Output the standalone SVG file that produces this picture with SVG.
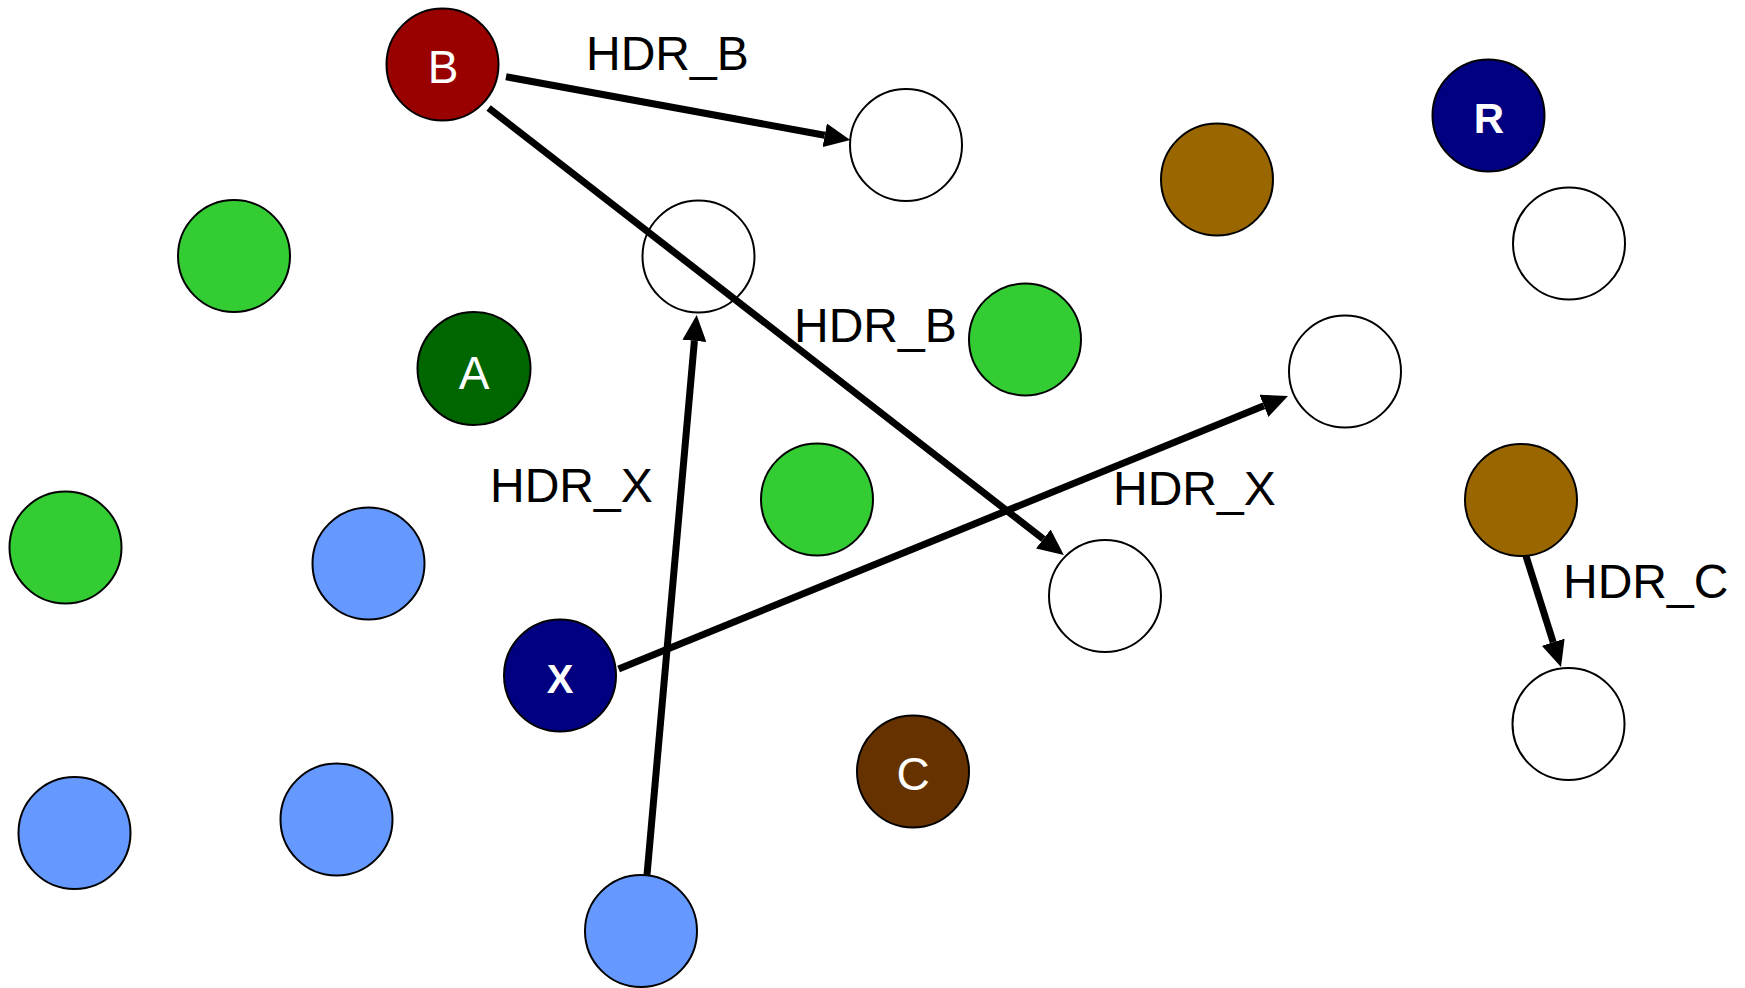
<svg xmlns="http://www.w3.org/2000/svg" width="1745" height="988" viewBox="0 0 1745 988">
<style>
.n{stroke:#000;stroke-width:2}
.w{fill:#fff}
.g{fill:#33CC33}
.bl{fill:#6699FF}
.br{fill:#996600}
.nv{fill:#000080}
.t{font-family:"Liberation Sans",Arial,sans-serif;fill:#fff;text-anchor:middle}
.lbl{font-family:"Liberation Sans",Arial,sans-serif;font-size:48px;fill:#000}
.e{stroke:#000;stroke-width:7;fill:none;marker-end:url(#ah)}
</style>
<defs>
<marker id="ah" markerUnits="userSpaceOnUse" markerWidth="26" markerHeight="24" refX="0" refY="12" orient="auto" viewBox="0 0 26 24">
<path d="M0,0 L26,12 L0,24 z" fill="#000"/>
</marker>
</defs>
<rect width="1745" height="988" fill="#fff"/>
<g id="nodes">
<g id="nB"><circle class="n" cx="442.5" cy="64.5" r="56" fill="#990000"/><text class="t" x="443" y="82.5" font-size="46">B</text></g>
<g id="w1"><circle class="n w" cx="906" cy="145" r="56"/></g>
<g id="w2"><circle class="n w" cx="698.5" cy="256.5" r="56"/></g>
<g id="g1"><circle class="n g" cx="234" cy="256" r="56"/></g>
<g id="nA"><circle class="n" cx="474" cy="368.5" r="56.5" fill="#006600"/><text class="t" x="474" y="388.5" font-size="46">A</text></g>
<g id="g2"><circle class="n g" cx="1025" cy="339.5" r="56"/></g>
<g id="br1"><circle class="n br" cx="1217" cy="179.5" r="56"/></g>
<g id="nR"><circle class="n nv" cx="1488.5" cy="115.5" r="56"/><text class="t" x="1489" y="133" font-size="42" font-weight="bold">R</text></g>
<g id="w3"><circle class="n w" cx="1569" cy="243.5" r="56"/></g>
<g id="w4"><circle class="n w" cx="1345" cy="371.5" r="56"/></g>
<g id="g3"><circle class="n g" cx="65.5" cy="547.5" r="56"/></g>
<g id="b1"><circle class="n bl" cx="368.5" cy="563.5" r="56"/></g>
<g id="g4"><circle class="n g" cx="817" cy="499.5" r="56"/></g>
<g id="nX"><circle class="n nv" cx="560" cy="675.5" r="56"/><text class="t" x="560" y="692.5" font-size="40" font-weight="bold">X</text></g>
<g id="w5"><circle class="n w" cx="1105" cy="596" r="56"/></g>
<g id="br2"><circle class="n br" cx="1521" cy="500" r="56"/></g>
<g id="w6"><circle class="n w" cx="1568.5" cy="724" r="56"/></g>
<g id="nC"><circle class="n" cx="913" cy="771.5" r="56" fill="#663300"/><text class="t" x="913" y="789.5" font-size="46">C</text></g>
<g id="b2"><circle class="n bl" cx="74.5" cy="833" r="56"/></g>
<g id="b3"><circle class="n bl" cx="336.5" cy="819.5" r="56"/></g>
<g id="b4"><circle class="n bl" cx="641" cy="931" r="56"/></g>
</g>
<g id="connectors">
<line class="e" x1="506" y1="76.7" x2="824.7" y2="135.3"/>
<line class="e" x1="488.6" y1="108" x2="1043.3" y2="539"/>
<line class="e" x1="647" y1="875" x2="694.4" y2="340.9"/>
<line class="e" x1="618.6" y1="669" x2="1263.9" y2="405.8"/>
<line class="e" x1="1526" y1="556" x2="1553.2" y2="642.2"/>
</g>
<g id="labels">
<text class="lbl" x="586" y="70">HDR_B</text>
<text class="lbl" x="794" y="342">HDR_B</text>
<text class="lbl" x="490" y="502">HDR_X</text>
<text class="lbl" x="1113" y="505">HDR_X</text>
<text class="lbl" x="1563" y="598">HDR_C</text>
</g>
</svg>
